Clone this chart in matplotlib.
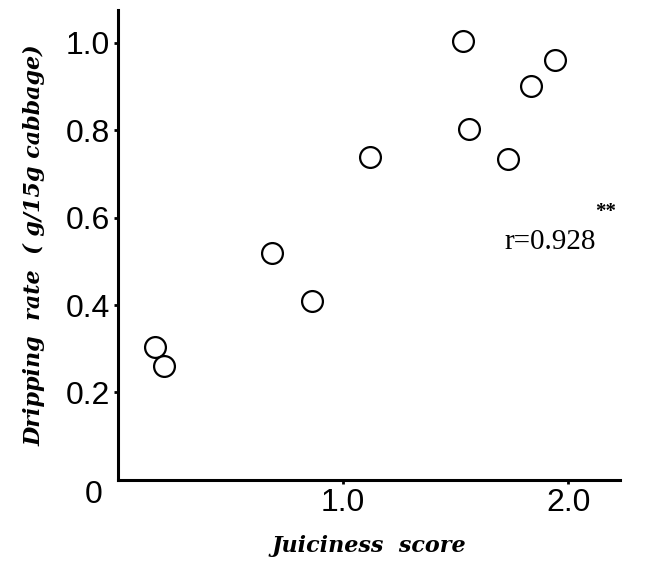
import matplotlib
matplotlib.use("Agg")
import matplotlib.pyplot as plt

# Juiciness score vs dripping rate
juiciness = [0.164, 0.204, 0.684, 0.862, 1.12, 1.533, 1.56, 1.733, 1.836, 1.942]
dripping = [0.303, 0.261, 0.519, 0.409, 0.738, 1.003, 0.802, 0.734, 0.90, 0.96]

x_ticks = [1.0, 2.0]
x_ticklabels = ["1.0", "2.0"]
y_ticks = [0.2, 0.4, 0.6, 0.8, 1.0]
y_ticklabels = ["0.2", "0.4", "0.6", "0.8", "1.0"]

fig = plt.figure(figsize=(6.5, 5.66), dpi=100)
ax = fig.add_axes([0.1815, 0.152, 0.7725, 0.830])

ax.plot(juiciness, dripping, 'o', markersize=15, markerfacecolor='white',
        markeredgecolor='black', markeredgewidth=1.6, linestyle='none')

ax.set_xlim(0, 2.23)
ax.set_ylim(0, 1.074)

for side in ['top', 'right']:
    ax.spines[side].set_visible(False)
for side in ['left', 'bottom']:
    ax.spines[side].set_linewidth(2.2)

tick_font = dict(family='Liberation Sans', size=23)
ax.set_xticks(x_ticks)
ax.set_xticklabels(x_ticklabels, fontdict=tick_font)
ax.set_yticks(y_ticks)
ax.set_yticklabels(y_ticklabels, fontdict=tick_font)
ax.tick_params(axis='both', direction='out', length=3, width=2, pad=3)

# origin label sits at the corner
ax.text(-0.11, -0.035, "0", ha='center', va='center', **tick_font)

label_font = dict(family='DejaVu Serif', style='italic', weight='bold', size=16)
ax.set_xlabel("Juiciness  score", labelpad=12, **label_font)
ax.set_ylabel("Dripping  rate  ( g/15g cabbage)", labelpad=14, **label_font)

ax.text(1.92, 0.544, "r=0.928", ha='center', va='center',
        family='Liberation Serif', size=21)
ax.text(2.165, 0.612, "**", ha='center', va='center',
        family='Liberation Serif', weight='bold', size=15)

fig.savefig("out.png", dpi=100)
